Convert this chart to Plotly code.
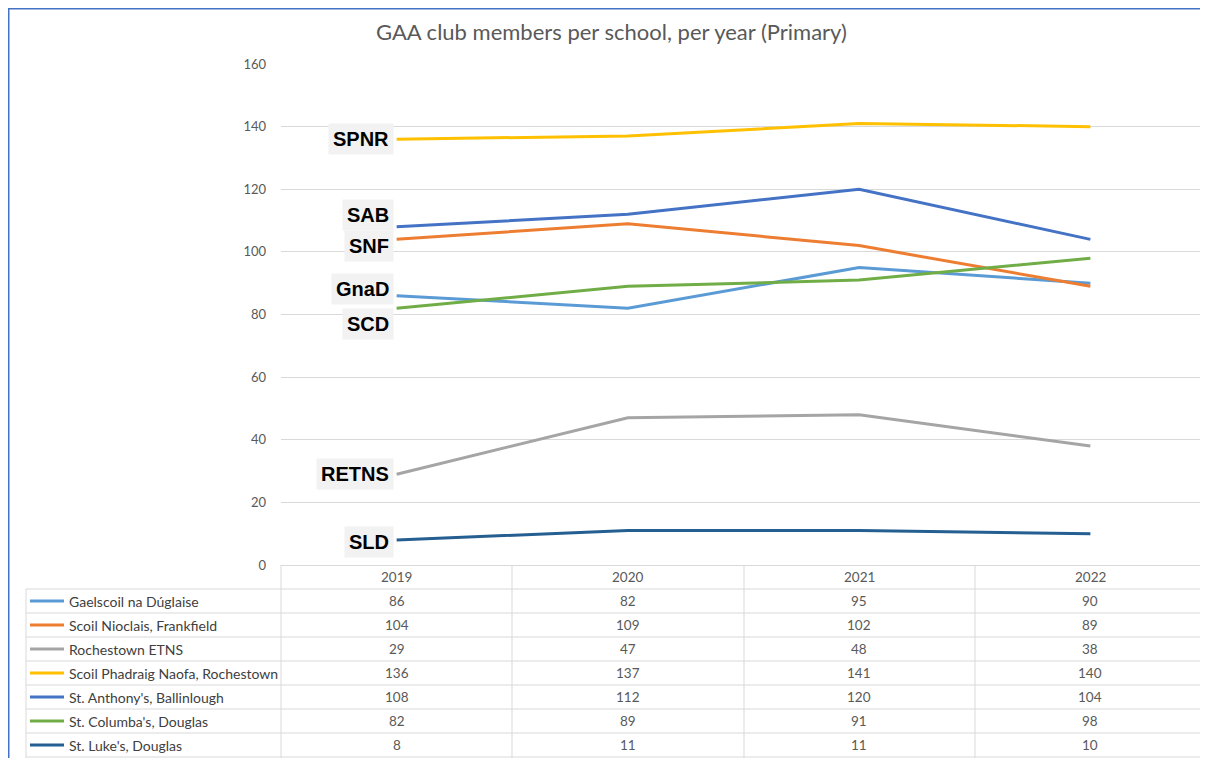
import plotly.graph_objects as go

# ---- data ----
years = ["2019", "2020", "2021", "2022"]
schools = [
    "Gaelscoil na Dúglaise",
    "Scoil Nioclais, Frankfield",
    "Rochestown ETNS",
    "Scoil Phadraig Naofa, Rochestown",
    "St. Anthony's, Ballinlough",
    "St. Columba's, Douglas",
    "St. Luke's, Douglas",
]
codes = ["GnaD", "SNF", "RETNS", "SPNR", "SAB", "SCD", "SLD"]
gaelscoil = [86, 82, 95, 90]
scoil_nioclais = [104, 109, 102, 89]
rochestown_etns = [29, 47, 48, 38]
scoil_phadraig = [136, 137, 141, 140]
st_anthonys = [108, 112, 120, 104]
st_columbas = [82, 89, 91, 98]
st_lukes = [8, 11, 11, 10]
series = [gaelscoil, scoil_nioclais, rochestown_etns, scoil_phadraig,
          st_anthonys, st_columbas, st_lukes]
colors = ["#5B9BD5", "#ED7D31", "#A5A5A5", "#FFC000", "#4472C4", "#70AD47", "#255E91"]
label_yshift = [7, -7, 0, 0, 12, -16, -2]

# ---- layout constants (reference pixel coords; page body has an 8px margin) ----
OFF = 8
W, H = 1200, 750
PLOT_L, PLOT_R, PLOT_T, PLOT_B = 281, 1206, 64, 565  # in window pixels
L = PLOT_L - OFF
T = PLOT_T - OFF
R = W - (PLOT_R - OFF)
B = H - (PLOT_B - OFF)
PW, PH = PLOT_R - PLOT_L, PLOT_B - PLOT_T
FONT = "Lato, 'Open Sans', sans-serif"


def px_x(px):
    return (px - PLOT_L) / PW


def px_y(py):
    return (PLOT_B - py) / PH


fig = go.Figure()
for name, vals, col in zip(schools, series, colors):
    fig.add_trace(go.Scatter(x=years, y=vals, name=name, mode="lines",
                             line=dict(color=col, width=3), showlegend=False))

annotations = []
shapes = []

# series code labels at first point
for code, vals, ys in zip(codes, series, label_yshift):
    annotations.append(dict(x=0, y=vals[0], xref="x", yref="y", text=code,
                            showarrow=False, xanchor="right", yanchor="middle",
                            xshift=-3, yshift=ys, bgcolor="#F2F2F2", borderpad=4,
                            font=dict(family="Liberation Sans, Arial", size=20,
                                      color="#000000", weight="bold")))

# title
annotations.append(dict(x=px_x(611), y=px_y(31), xref="paper", yref="paper",
                        text="GAA club members per school, per year (Primary)",
                        showarrow=False, xanchor="center", yanchor="middle",
                        font=dict(family=FONT, size=22, color="#595959")))

# data table
row_h = 24
header_c = 577
first_c = 601
grid = "#D9D9D9"
col_edges = [281, 512, 744, 975, 1206]
for j, yr in enumerate(years):
    annotations.append(dict(x=j, y=px_y(header_c), xref="x", yref="paper", text=yr,
                            showarrow=False, xanchor="center", yanchor="middle",
                            font=dict(family=FONT, size=13.5, color="#595959")))
for i, (name, vals, col) in enumerate(zip(schools, series, colors)):
    cy = first_c + i * row_h
    shapes.append(dict(type="line", xref="paper", yref="paper",
                       x0=px_x(30), x1=px_x(64), y0=px_y(cy), y1=px_y(cy),
                       line=dict(color=col, width=3)))
    annotations.append(dict(x=px_x(67), y=px_y(cy), xref="paper", yref="paper",
                            text=name, showarrow=False, xanchor="left", yanchor="middle",
                            font=dict(family=FONT, size=14, color="#404040")))
    for j, v in enumerate(vals):
        annotations.append(dict(x=j, y=px_y(cy), xref="x", yref="paper", text=str(v),
                                showarrow=False, xanchor="center", yanchor="middle",
                                font=dict(family=FONT, size=13.5, color="#595959")))
# horizontal grid lines of table
for k in range(len(schools) + 1):
    yy = 589 + k * row_h
    shapes.append(dict(type="line", xref="paper", yref="paper",
                       x0=px_x(26), x1=px_x(1206), y0=px_y(yy), y1=px_y(yy),
                       line=dict(color=grid, width=1)))
# vertical lines
shapes.append(dict(type="line", xref="paper", yref="paper", x0=px_x(26), x1=px_x(26),
                   y0=px_y(589), y1=px_y(770), line=dict(color=grid, width=1)))
for xe in col_edges:
    shapes.append(dict(type="line", xref="paper", yref="paper", x0=px_x(xe), x1=px_x(xe),
                       y0=px_y(565), y1=px_y(770), line=dict(color=grid, width=1)))

# outer frame (blue selection border)
shapes.append(dict(type="line", xref="paper", yref="paper", x0=px_x(8.5), x1=px_x(8.5),
                   y0=px_y(7.5), y1=px_y(770), line=dict(color="#4472C4", width=2)))
shapes.append(dict(type="line", xref="paper", yref="paper", x0=px_x(7.5), x1=px_x(1220),
                   y0=px_y(8.5), y1=px_y(8.5), line=dict(color="#4472C4", width=2)))

fig.update_layout(
    width=W, height=H,
    margin=dict(l=L, r=R, t=T, b=B, pad=0),
    paper_bgcolor="white", plot_bgcolor="white",
    showlegend=False,
    annotations=annotations,
    shapes=shapes,
    xaxis=dict(type="category", categoryorder="array", categoryarray=years,
               range=[-0.5, 3.5], showticklabels=False, showgrid=False,
               showline=True, linecolor=grid, linewidth=1, ticks="", zeroline=False),
    yaxis=dict(range=[0, 160], dtick=20, showgrid=True, gridcolor=grid, gridwidth=1,
               zeroline=False, showline=False, ticks="", ticklabelstandoff=14,
               tickfont=dict(family=FONT, size=13, color="#595959")),
)

fig.write_html("out.html")
